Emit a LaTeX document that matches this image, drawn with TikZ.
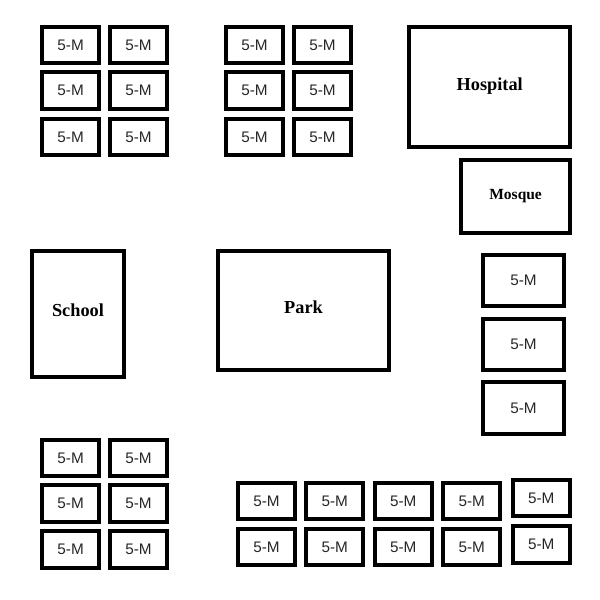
\documentclass[tikz,border=0pt]{standalone}
\usepackage{fontspec}
\setmainfont{Liberation Serif}
\setsansfont{Liberation Sans}
\tikzset{
  plot/.style={draw=black,line width=4pt,fill=white,inner sep=0pt,outer sep=0pt,anchor=center},
  unit/.style={plot,font=\sffamily\fontsize{15.3}{15.3}\selectfont,text height=10.8pt,text depth=0pt,text=black!85},
  smallunit/.style={unit,minimum width=57.2pt,minimum height=36.4pt},
  wideunit/.style={unit,minimum width=81pt,minimum height=51.5pt},
  place/.style={plot,font=\bfseries\fontsize{18.3}{18.3}\selectfont,text height=12pt,text depth=0pt},
}
\begin{document}
\begin{tikzpicture}[x=1pt,y=-1pt]
\useasboundingbox (0,0) rectangle (600,600);
% top-left and top-middle blocks
\foreach \r/\y in {1/45,2/90.3,3/137}{
  \foreach \c/\x in {1/70.6,2/138.5}{
    \node[smallunit] (tl\r\c) at (\x,\y) {5-M};
  }
  \foreach \c/\x in {1/254.5,2/322.5}{
    \node[smallunit] (tm\r\c) at (\x,\y) {5-M};
  }
}
% bottom-left block
\foreach \r/\y in {1/458,2/503.5,3/549.5}{
  \foreach \c/\x in {1/70.6,2/138.5}{
    \node[smallunit] (bl\r\c) at (\x,\y) {5-M};
  }
}
% bottom row
\foreach \r/\y in {1/500.8,2/547.2}{
  \foreach \c/\x in {1/266.5,2/334.8,3/403.3,4/471.7}{
    \node[smallunit] (br\r\c) at (\x,\y) {5-M};
  }
}
\node[smallunit] (br15) at (541.3,498) {5-M};
\node[smallunit] (br25) at (541.3,544.3) {5-M};
% right column
\node[wideunit] (rc1) at (523.5,280.5) {5-M};
\node[wideunit] (rc2) at (523.5,344.5) {5-M};
\node[wideunit] (rc3) at (523.5,408) {5-M};
% named places
\node[place,minimum width=160.8pt,minimum height=120.6pt] (hospital) at (489.7,86.9) {\raisebox{2.2pt}{Hospital}};
\node[place,font=\bfseries\fontsize{15.5}{15.5}\selectfont,minimum width=109pt,minimum height=73pt] (mosque) at (515.6,196.5) {\raisebox{3.2pt}{Mosque}};
\node[place,minimum width=92pt,minimum height=126pt] (school) at (78,314) {\raisebox{3.7pt}{School}};
\node[place,minimum width=171pt,minimum height=119pt] (park) at (303.5,310.5) {\raisebox{2.7pt}{Park}};
\end{tikzpicture}
\end{document}
